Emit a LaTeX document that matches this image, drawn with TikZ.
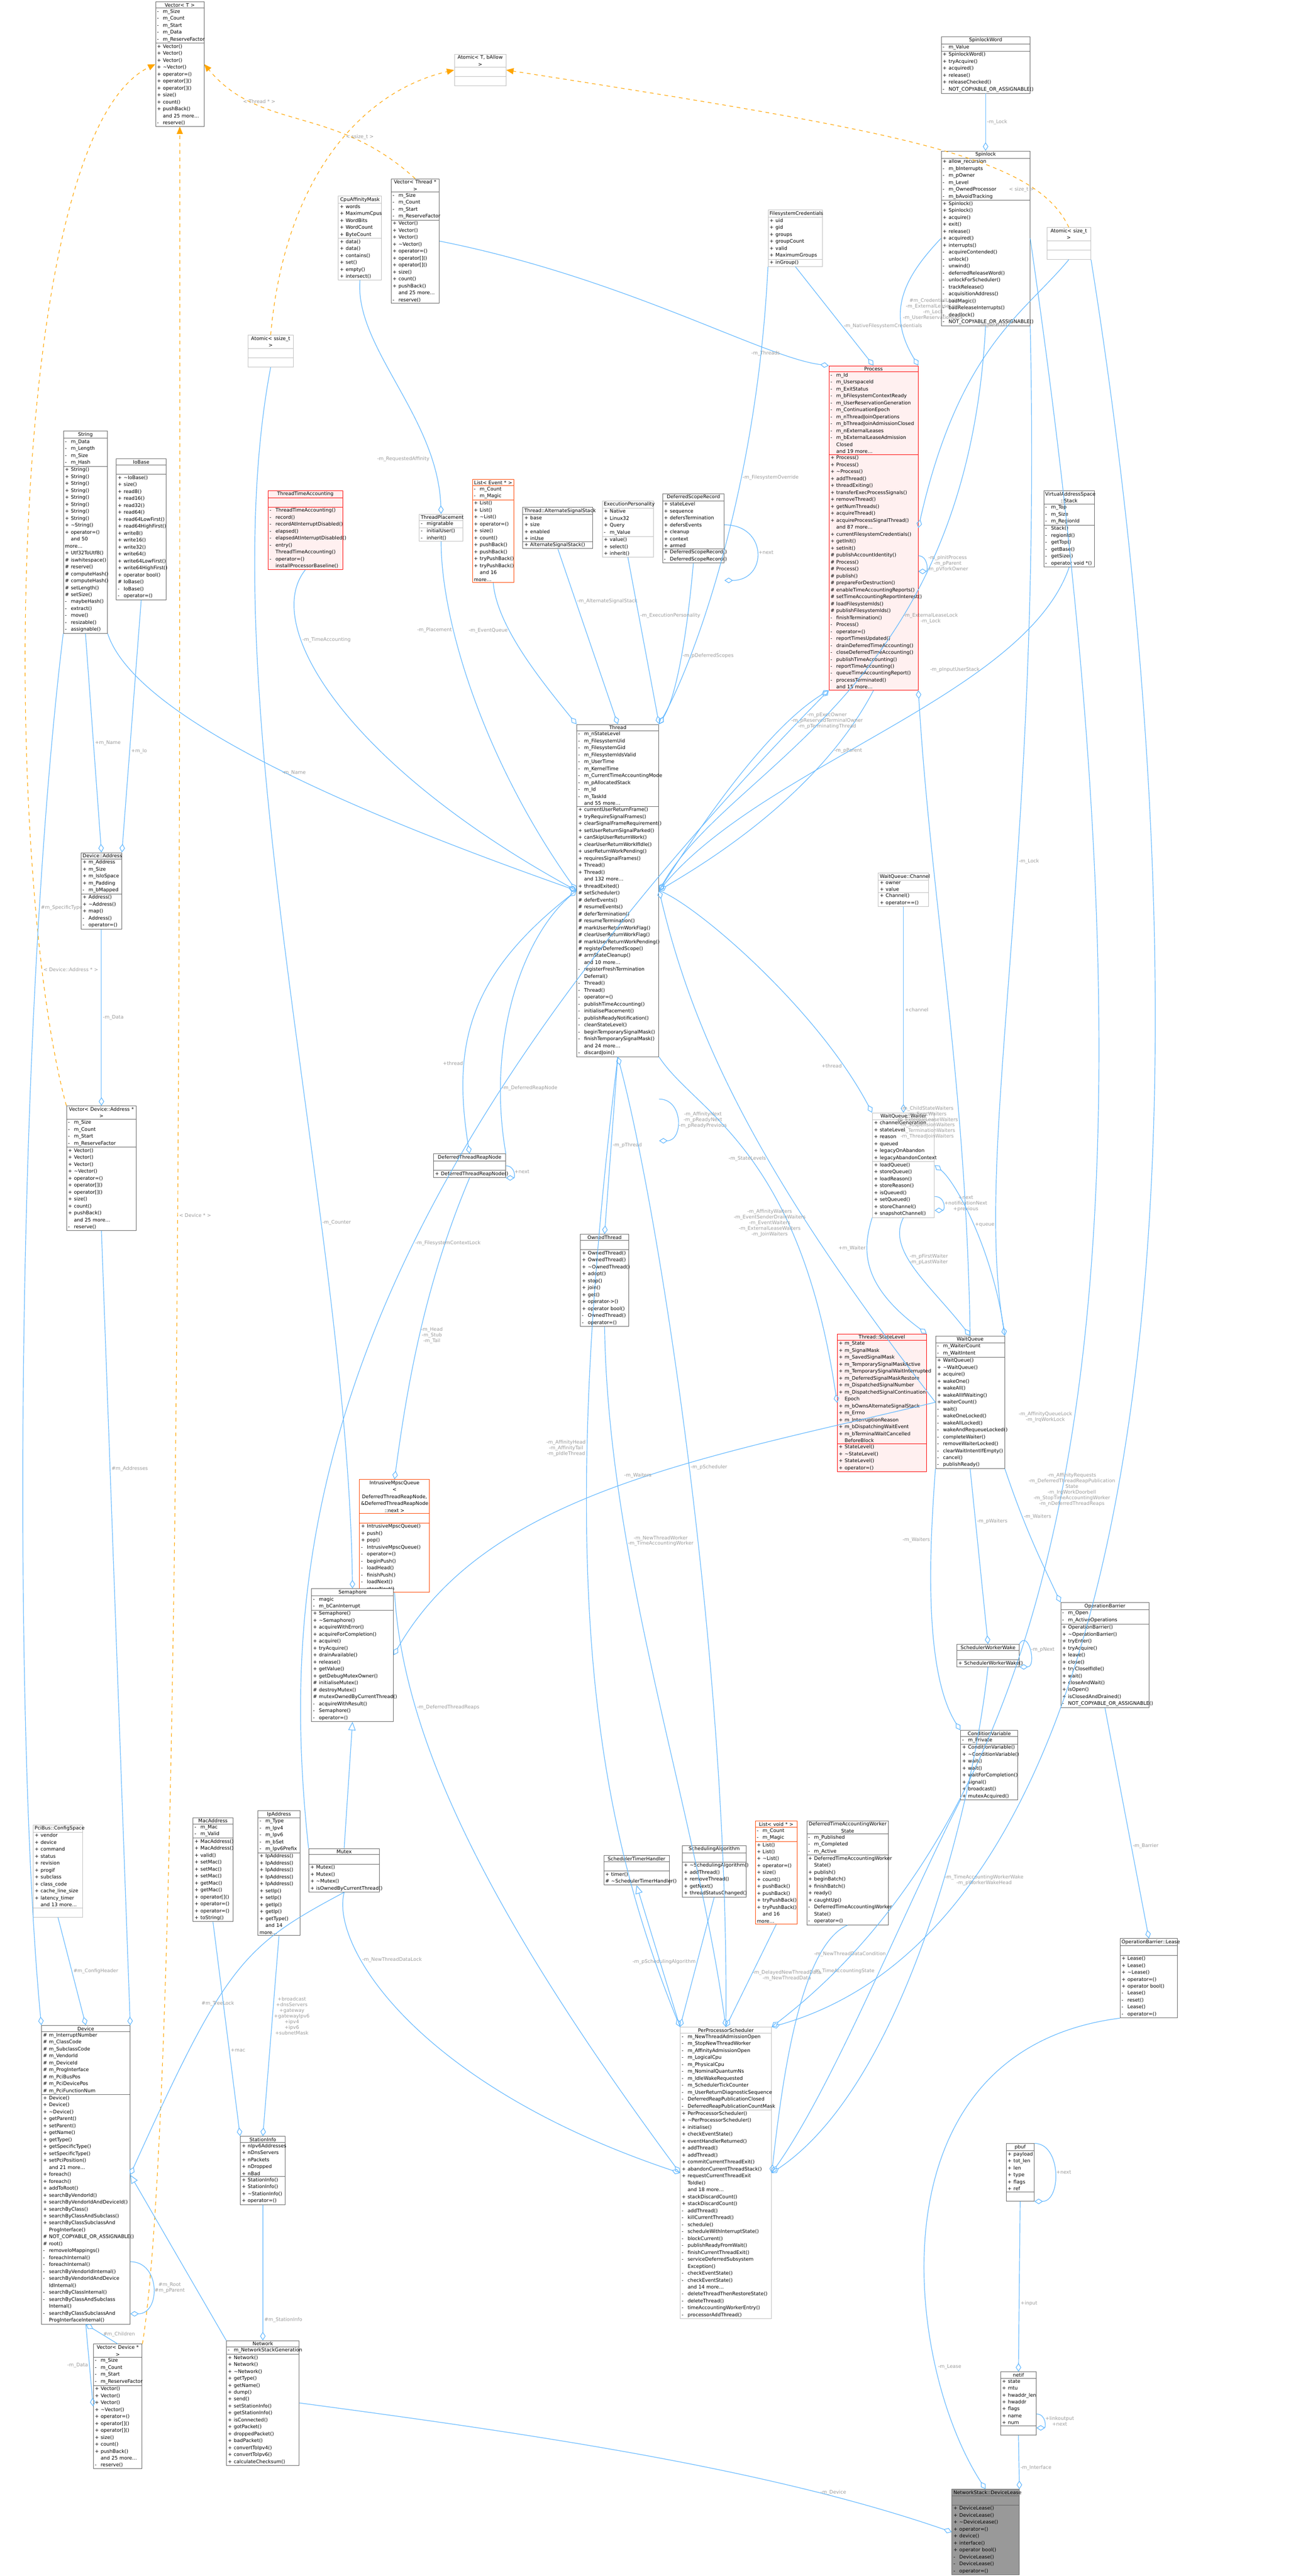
\documentclass[tikz,border=0pt]{standalone}
\usepackage{fontspec}
\setmainfont{DejaVu Sans}
\usetikzlibrary{arrows.meta,shapes.multipart}
\definecolor{edgeblue}{HTML}{63B8FF}
\definecolor{lblgray}{HTML}{9A9A9A}
\definecolor{tmplorange}{HTML}{FFA500}
\definecolor{boxdark}{HTML}{666666}
\definecolor{boxlight}{HTML}{BFBFBF}
\definecolor{hotred}{HTML}{FF0000}
\definecolor{hotfill}{HTML}{FFF0F0}
\definecolor{tmplred}{HTML}{FF4500}
\newcommand{\ttl}[1]{\centering #1\par}
\newcommand{\m}[2]{\makebox[1.7mm][l]{#1}#2\par}
\newcommand{\nomore}[1]{\m{}{and #1 more\dots}}
\tikzset{
  cls/.style={rectangle split, rectangle split parts=3, draw=boxdark, fill=white,
    anchor=north west, align=left, inner xsep=1.2pt, inner ysep=0.8pt,
    font=\fontsize{4}{5.69}\selectfont, line width=0.4pt},
  clsl/.style={cls, draw=boxlight},
  hot/.style={cls, draw=hotred, fill=hotfill},
  tmplcls/.style={cls, draw=tmplred},
  root/.style={cls, draw=boxdark, fill=black!40},
  link/.style={draw=edgeblue, line width=0.5pt, -{Diamond[open,length=7pt,width=4.5pt]}},
  tmpl/.style={draw=tmplorange, line width=0.5pt, dashed, -{Triangle[length=6pt,width=5pt]}},
  inh/.style={draw=edgeblue, line width=0.5pt, -{Triangle[open,length=7pt,width=6pt]}},
  lbl/.style={text=lblgray, font=\fontsize{4}{4.6}\selectfont, align=center, inner sep=1pt}
}
\begin{document}
\begin{tikzpicture}
\useasboundingbox (0,0) rectangle (37.64,-74.13);

% templates and small helpers
\node[cls, text width=1.31cm] (vecT) at (4.47,-0.05) {\ttl{Vector< T >}\nodepart{two}\m{-}{m\_Size}\m{-}{m\_Count}\m{-}{m\_Start}\m{-}{m\_Data}\m{-}{m\_ReserveFactor}\nodepart{three}\m{+}{Vector()}\m{+}{Vector()}\m{+}{Vector()}\m{+}{\textasciitilde Vector()}\m{+}{operator=()}\m{+}{operator[]()}\m{+}{operator[]()}\m{+}{size()}\m{+}{count()}\m{+}{pushBack()}\nomore{25}\m{-}{reserve()}};
\node[clsl, text width=1.4cm] (atomT) at (13.07,-1.55) {\ttl{Atomic< T, bAllow >}\nodepart{two}\strut\nodepart{three}\strut};
\node[cls, text width=1.3cm] (vecthr) at (11.25,-5.14) {\ttl{Vector< Thread * >}\nodepart{two}\m{-}{m\_Size}\m{-}{m\_Count}\m{-}{m\_Start}\m{-}{m\_ReserveFactor}\nodepart{three}\m{+}{Vector()}\m{+}{Vector()}\m{+}{Vector()}\m{+}{\textasciitilde Vector()}\m{+}{operator=()}\m{+}{operator[]()}\m{+}{operator[]()}\m{+}{size()}\m{+}{count()}\m{+}{pushBack()}\nomore{25}\m{-}{reserve()}};
\node[clsl, text width=1.16cm] (cpumask) at (9.73,-5.64) {\ttl{CpuAffinityMask}\nodepart{two}\m{+}{words}\m{+}{MaximumCpus}\m{+}{WordBits}\m{+}{WordCount}\m{+}{ByteCount}\nodepart{three}\m{+}{data()}\m{+}{data()}\m{+}{contains()}\m{+}{set()}\m{+}{empty()}\m{+}{intersect()}};
\node[clsl, text width=1.22cm] (atomssize) at (7.13,-9.64) {\ttl{Atomic< ssize\_t >}\nodepart{two}\strut\nodepart{three}\strut};
\node[cls, text width=1.18cm] (string) at (1.82,-12.4) {\ttl{String}\nodepart{two}\m{-}{m\_Data}\m{-}{m\_Length}\m{-}{m\_Size}\m{-}{m\_Hash}\nodepart{three}\m{+}{String()}\m{+}{String()}\m{+}{String()}\m{+}{String()}\m{+}{String()}\m{+}{String()}\m{+}{String()}\m{+}{String()}\m{+}{\textasciitilde String()}\m{+}{operator=()}\nomore{50}\m{+}{Utf32ToUtf8()}\m{\#}{iswhitespace()}\m{\#}{reserve()}\m{\#}{computeHash()}\m{\#}{computeHash()}\m{\#}{setLength()}\m{\#}{setSize()}\m{-}{maybeHash()}\m{-}{extract()}\m{-}{move()}\m{-}{resizable()}\m{-}{assignable()}};
\node[cls, text width=1.35cm] (iobase) at (3.34,-13.2) {\ttl{IoBase}\nodepart{two}\strut\nodepart{three}\m{+}{\textasciitilde IoBase()}\m{+}{size()}\m{+}{read8()}\m{+}{read16()}\m{+}{read32()}\m{+}{read64()}\m{+}{read64LowFirst()}\m{+}{read64HighFirst()}\m{+}{write8()}\m{+}{write16()}\m{+}{write32()}\m{+}{write64()}\m{+}{write64LowFirst()}\m{+}{write64HighFirst()}\m{+}{operator bool()}\m{\#}{IoBase()}\m{-}{IoBase()}\m{-}{operator=()}};
\node[hot, text width=2.06cm] (tta) at (7.71,-14.11) {\ttl{ThreadTimeAccounting}\nodepart{two}\strut\nodepart{three}\m{-}{ThreadTimeAccounting()}\m{-}{record()}\m{-}{recordAtInterruptDisabled()}\m{-}{elapsed()}\m{-}{elapsedAtInterruptDisabled()}\m{-}{entry()}\m{}{ThreadTimeAccounting()}\m{-}{operator=()}\m{}{installProcessorBaseline()}};
\node[clsl, text width=1.17cm] (tplace) at (12.06,-14.79) {\ttl{ThreadPlacement}\nodepart{two}\m{-}{migratable}\nodepart{three}\m{-}{initialUser()}\m{-}{inherit()}};
\node[tmplcls, text width=1.11cm] (listevt) at (13.59,-13.79) {\ttl{List< Event * >}\nodepart{two}\m{-}{m\_Count}\m{-}{m\_Magic}\nodepart{three}\m{+}{List()}\m{+}{List()}\m{+}{\textasciitilde List()}\m{+}{operator=()}\m{+}{size()}\m{+}{count()}\m{+}{pushBack()}\m{+}{pushBack()}\m{+}{tryPushBack()}\m{+}{tryPushBack()}\nomore{16}};
\node[cls, text width=1.93cm] (altstack) at (15.04,-14.59) {\ttl{Thread::AlternateSignalStack}\nodepart{two}\m{+}{base}\m{+}{size}\m{+}{enabled}\m{+}{inUse}\nodepart{three}\m{+}{AlternateSignalStack()}};
\node[clsl, text width=1.38cm] (execp) at (17.33,-14.41) {\ttl{ExecutionPersonality}\nodepart{two}\m{+}{Native}\m{+}{Linux32}\m{+}{Query}\m{-}{m\_Value}\nodepart{three}\m{+}{value()}\m{+}{select()}\m{+}{inherit()}};

% locks and processes
\node[cls, text width=2.47cm] (spinword) at (27.08,-1.05) {\ttl{SpinlockWord}\nodepart{two}\m{-}{m\_Value}\nodepart{three}\m{+}{SpinlockWord()}\m{+}{tryAcquire()}\m{+}{acquired()}\m{+}{release()}\m{+}{releaseChecked()}\m{-}{NOT\_COPYABLE\_OR\_ASSIGNABLE()}};
\node[cls, text width=2.47cm] (spinlock) at (27.08,-4.34) {\ttl{Spinlock}\nodepart{two}\m{+}{allow\_recursion}\m{-}{m\_bInterrupts}\m{-}{m\_pOwner}\m{-}{m\_Level}\m{-}{m\_OwnedProcessor}\m{-}{m\_bAvoidTracking}\nodepart{three}\m{+}{Spinlock()}\m{+}{Spinlock()}\m{+}{acquire()}\m{+}{exit()}\m{+}{release()}\m{+}{acquired()}\m{+}{interrupts()}\m{-}{acquireContended()}\m{-}{unlock()}\m{-}{unwind()}\m{-}{deferredReleaseWord()}\m{-}{unlockForScheduler()}\m{-}{trackRelease()}\m{-}{acquisitionAddress()}\m{-}{badMagic()}\m{-}{badReleaseInterrupts()}\m{-}{deadlock()}\m{-}{NOT\_COPYABLE\_OR\_ASSIGNABLE()}};
\node[clsl, text width=1.48cm] (fscred) at (22.1,-6.04) {\ttl{FilesystemCredentials}\nodepart{two}\m{+}{uid}\m{+}{gid}\m{+}{groups}\m{+}{groupCount}\m{+}{valid}\m{+}{MaximumGroups}\nodepart{three}\m{+}{inGroup()}};
\node[clsl, text width=1.18cm] (atomsize) at (30.12,-6.54) {\ttl{Atomic< size\_t >}\nodepart{two}\strut\nodepart{three}\strut};
\node[hot, text width=2.48cm] (process) at (23.85,-10.52) {\ttl{Process}\nodepart{two}\m{-}{m\_Id}\m{-}{m\_UserspaceId}\m{-}{m\_ExitStatus}\m{-}{m\_bFilesystemContextReady}\m{-}{m\_UserReservationGeneration}\m{-}{m\_ContinuationEpoch}\m{-}{m\_nThreadJoinOperations}\m{-}{m\_bThreadJoinAdmissionClosed}\m{-}{m\_nExternalLeases}\m{-}{m\_bExternalLeaseAdmission\\\hspace*{1.7mm}Closed}\nomore{19}\nodepart{three}\m{+}{Process()}\m{+}{Process()}\m{+}{\textasciitilde Process()}\m{+}{addThread()}\m{+}{threadExiting()}\m{+}{transferExecProcessSignals()}\m{+}{removeThread()}\m{+}{getNumThreads()}\m{+}{acquireThread()}\m{+}{acquireProcessSignalThread()}\nomore{87}\m{+}{currentFilesystemCredentials()}\m{+}{getInit()}\m{+}{setInit()}\m{\#}{publishAccountIdentity()}\m{\#}{Process()}\m{\#}{Process()}\m{\#}{publish()}\m{\#}{prepareForDestruction()}\m{\#}{enableTimeAccountingReports()}\m{\#}{setTimeAccountingReportInterest()}\m{\#}{loadFilesystemIds()}\m{\#}{publishFilesystemIds()}\m{-}{finishTermination()}\m{-}{Process()}\m{-}{operator=()}\m{-}{reportTimesUpdated()}\m{-}{drainDeferredTimeAccounting()}\m{-}{closeDeferredTimeAccounting()}\m{-}{publishTimeAccounting()}\m{-}{reportTimeAccounting()}\m{-}{queueTimeAccountingReport()}\m{-}{processTerminated()}\nomore{15}};
\node[cls, text width=1.69cm] (dscope) at (19.06,-14.2) {\ttl{DeferredScopeRecord}\nodepart{two}\m{+}{stateLevel}\m{+}{sequence}\m{+}{defersTermination}\m{+}{defersEvents}\m{+}{cleanup}\m{+}{context}\m{+}{armed}\nodepart{three}\m{+}{DeferredScopeRecord()}\m{-}{DeferredScopeRecord()}};
\node[cls, text width=1.38cm] (vstack) at (30.03,-14.12) {\ttl{VirtualAddressSpace\\::Stack}\nodepart{two}\m{-}{m\_Top}\m{-}{m\_Size}\m{-}{m\_RegionId}\nodepart{three}\m{-}{Stack()}\m{-}{regionId()}\m{-}{getTop()}\m{-}{getBase()}\m{-}{getSize()}\m{-}{operator void *()}};

% threads
\node[cls, text width=1.08cm] (devaddr) at (2.33,-24.53) {\ttl{Device::Address}\nodepart{two}\m{+}{m\_Address}\m{+}{m\_Size}\m{+}{m\_IsIoSpace}\m{+}{m\_Padding}\m{-}{m\_bMapped}\nodepart{three}\m{+}{Address()}\m{+}{\textasciitilde Address()}\m{+}{map()}\m{-}{Address()}\m{-}{operator=()}};
\node[cls, text width=1.92cm] (vecaddr) at (1.91,-31.82) {\ttl{Vector< Device::Address * >}\nodepart{two}\m{-}{m\_Size}\m{-}{m\_Count}\m{-}{m\_Start}\m{-}{m\_ReserveFactor}\nodepart{three}\m{+}{Vector()}\m{+}{Vector()}\m{+}{Vector()}\m{+}{\textasciitilde Vector()}\m{+}{operator=()}\m{+}{operator[]()}\m{+}{operator[]()}\m{+}{size()}\m{+}{count()}\m{+}{pushBack()}\nomore{25}\m{-}{reserve()}};
\node[cls, text width=2.28cm] (thread) at (16.59,-20.84) {\ttl{Thread}\nodepart{two}\m{-}{m\_nStateLevel}\m{-}{m\_FilesystemUid}\m{-}{m\_FilesystemGid}\m{-}{m\_FilesystemIdsValid}\m{-}{m\_UserTime}\m{-}{m\_KernelTime}\m{-}{m\_CurrentTimeAccountingMode}\m{-}{m\_pAllocatedStack}\m{-}{m\_Id}\m{-}{m\_TaskId}\nomore{55}\nodepart{three}\m{+}{currentUserReturnFrame()}\m{+}{tryRequireSignalFrames()}\m{+}{clearSignalFrameRequirement()}\m{+}{setUserReturnSignalParked()}\m{+}{canSkipUserReturnWork()}\m{+}{clearUserReturnWorkIfIdle()}\m{+}{userReturnWorkPending()}\m{+}{requiresSignalFrames()}\m{+}{Thread()}\m{+}{Thread()}\nomore{132}\m{+}{threadExited()}\m{\#}{setScheduler()}\m{\#}{deferEvents()}\m{\#}{resumeEvents()}\m{\#}{deferTermination()}\m{\#}{resumeTermination()}\m{\#}{markUserReturnWorkFlag()}\m{\#}{clearUserReturnWorkFlag()}\m{\#}{markUserReturnWorkPending()}\m{\#}{registerDeferredScope()}\m{\#}{armStateCleanup()}\nomore{10}\m{-}{registerFreshTermination\\\hspace*{1.7mm}Deferral()}\m{-}{Thread()}\m{-}{Thread()}\m{-}{operator=()}\m{-}{publishTimeAccounting()}\m{-}{initialisePlacement()}\m{-}{publishReadyNotification()}\m{-}{cleanStateLevel()}\m{-}{beginTemporarySignalMask()}\m{-}{finishTemporarySignalMask()}\nomore{24}\m{-}{discardJoin()}};
\node[cls, text width=1.99cm] (reapnode) at (12.47,-33.2) {\ttl{DeferredThreadReapNode}\nodepart{two}\strut\nodepart{three}\m{+}{DeferredThreadReapNode()}};
\node[cls, text width=1.3cm] (owned) at (16.7,-35.51) {\ttl{OwnedThread}\nodepart{two}\strut\nodepart{three}\m{+}{OwnedThread()}\m{+}{OwnedThread()}\m{+}{\textasciitilde OwnedThread()}\m{+}{adopt()}\m{+}{stop()}\m{+}{join()}\m{+}{get()}\m{+}{operator->()}\m{+}{operator bool()}\m{-}{OwnedThread()}\m{-}{operator=()}};
\node[clsl, text width=1.36cm] (channel) at (25.27,-25.12) {\ttl{WaitQueue::Channel}\nodepart{two}\m{+}{owner}\m{+}{value}\nodepart{three}\m{+}{Channel()}\m{+}{operator==()}};
\node[clsl, text width=1.7cm] (waiter) at (25.1,-32.02) {\ttl{WaitQueue::Waiter}\nodepart{two}\m{+}{channelGeneration}\m{+}{stateLevel}\m{+}{reason}\m{+}{queued}\m{+}{legacyOnAbandon}\m{+}{legacyAbandonContext}\nodepart{three}\m{+}{loadQueue()}\m{+}{storeQueue()}\m{+}{loadReason()}\m{+}{storeReason()}\m{+}{isQueued()}\m{+}{setQueued()}\m{+}{storeChannel()}\m{+}{snapshotChannel()}};

% synchronisation
\node[tmplcls, text width=1.93cm] (mpsc) at (10.34,-42.57) {\ttl{IntrusiveMpscQueue\\< DeferredThreadReapNode,\\ \&DeferredThreadReapNode\\::next >}\nodepart{two}\strut\nodepart{three}\m{+}{IntrusiveMpscQueue()}\m{+}{push()}\m{+}{pop()}\m{-}{IntrusiveMpscQueue()}\m{-}{operator=()}\m{-}{beginPush()}\m{-}{loadHead()}\m{-}{finishPush()}\m{-}{loadNext()}\m{-}{storeNext()}};
\node[cls, text width=2.27cm] (semaphore) at (8.96,-45.71) {\ttl{Semaphore}\nodepart{two}\m{-}{magic}\m{-}{m\_bCanInterrupt}\nodepart{three}\m{+}{Semaphore()}\m{+}{\textasciitilde Semaphore()}\m{+}{acquireWithError()}\m{+}{acquireForCompletion()}\m{+}{acquire()}\m{+}{tryAcquire()}\m{+}{drainAvailable()}\m{+}{release()}\m{+}{getValue()}\m{+}{getDebugMutexOwner()}\m{\#}{initialiseMutex()}\m{\#}{destroyMutex()}\m{\#}{mutexOwnedByCurrentThread()}\m{-}{acquireWithResult()}\m{-}{Semaphore()}\m{-}{operator=()}};
\node[clsl, text width=1.34cm] (pciconf) at (0.95,-52.51) {\ttl{PciBus::ConfigSpace}\nodepart{two}\m{+}{vendor}\m{+}{device}\m{+}{command}\m{+}{status}\m{+}{revision}\m{+}{progif}\m{+}{subclass}\m{+}{class\_code}\m{+}{cache\_line\_size}\m{+}{latency\_timer}\nomore{13}\nodepart{three}\strut};
\node[cls, text width=1.06cm] (macaddr) at (5.55,-52.3) {\ttl{MacAddress}\nodepart{two}\m{-}{m\_Mac}\m{-}{m\_Valid}\nodepart{three}\m{+}{MacAddress()}\m{+}{MacAddress()}\m{+}{valid()}\m{+}{setMac()}\m{+}{setMac()}\m{+}{setMac()}\m{+}{getMac()}\m{+}{getMac()}\m{+}{operator[]()}\m{+}{operator=()}\m{+}{operator=()}\m{+}{toString()}};
\node[cls, text width=1.12cm] (ipaddr) at (7.42,-52.1) {\ttl{IpAddress}\nodepart{two}\m{-}{m\_Type}\m{-}{m\_Ipv4}\m{-}{m\_Ipv6}\m{-}{m\_bSet}\m{-}{m\_Ipv6Prefix}\nodepart{three}\m{+}{IpAddress()}\m{+}{IpAddress()}\m{+}{IpAddress()}\m{+}{IpAddress()}\m{+}{IpAddress()}\m{+}{setIp()}\m{+}{setIp()}\m{+}{getIp()}\m{+}{getIp()}\m{+}{getType()}\nomore{14}};
\node[cls, text width=1.95cm] (mutex) at (8.88,-53.19) {\ttl{Mutex}\nodepart{two}\strut\nodepart{three}\m{+}{Mutex()}\m{+}{Mutex()}\m{+}{\textasciitilde Mutex()}\m{+}{isOwnedByCurrentThread()}};
\node[cls, text width=1.8cm] (stimer) at (17.37,-53.39) {\ttl{SchedulerTimerHandler}\nodepart{two}\strut\nodepart{three}\m{+}{timer()}\m{\#}{\textasciitilde SchedulerTimerHandler()}};
\node[hot, text width=2.48cm] (statelvl) at (24.09,-38.38) {\ttl{Thread::StateLevel}\nodepart{two}\m{+}{m\_State}\m{+}{m\_SignalMask}\m{+}{m\_SavedSignalMask}\m{+}{m\_TemporarySignalMaskActive}\m{+}{m\_TemporarySignalWaitInterrupted}\m{+}{m\_DeferredSignalMaskRestore}\m{+}{m\_DispatchedSignalNumber}\m{+}{m\_DispatchedSignalContinuation\\\hspace*{1.7mm}Epoch}\m{+}{m\_bOwnsAlternateSignalStack}\m{+}{m\_Errno}\m{+}{m\_InterruptionReason}\m{+}{m\_bDispatchingWaitEvent}\m{+}{m\_bTerminalWaitCancelled\\\hspace*{1.7mm}BeforeBlock}\nodepart{three}\m{+}{StateLevel()}\m{+}{\textasciitilde StateLevel()}\m{+}{StateLevel()}\m{+}{operator=()}};
\node[cls, text width=1.9cm] (waitq) at (26.92,-38.44) {\ttl{WaitQueue}\nodepart{two}\m{-}{m\_WaiterCount}\m{-}{m\_WaitIntent}\nodepart{three}\m{+}{WaitQueue()}\m{+}{\textasciitilde WaitQueue()}\m{+}{acquire()}\m{+}{wakeOne()}\m{+}{wakeAll()}\m{+}{wakeAllIfWaiting()}\m{+}{waiterCount()}\m{-}{wait()}\m{-}{wakeOneLocked()}\m{-}{wakeAllLocked()}\m{-}{wakeAndRequeueLocked()}\m{-}{completeWaiter()}\m{-}{removeWaiterLocked()}\m{-}{clearWaitIntentIfEmpty()}\m{-}{cancel()}\m{-}{publishReady()}};
\node[cls, text width=2.46cm] (opbar) at (30.52,-46.11) {\ttl{OperationBarrier}\nodepart{two}\m{-}{m\_Open}\m{-}{m\_ActiveOperations}\nodepart{three}\m{+}{OperationBarrier()}\m{+}{\textasciitilde OperationBarrier()}\m{+}{tryEnter()}\m{+}{tryAcquire()}\m{+}{leave()}\m{+}{close()}\m{+}{tryCloseIfIdle()}\m{+}{wait()}\m{+}{closeAndWait()}\m{+}{isOpen()}\m{+}{isClosedAndDrained()}\m{-}{NOT\_COPYABLE\_OR\_ASSIGNABLE()}};
\node[cls, text width=1.71cm] (sww) at (27.53,-47.31) {\ttl{SchedulerWorkerWake}\nodepart{two}\strut\nodepart{three}\m{+}{SchedulerWorkerWake()}};
\node[cls, text width=1.56cm] (condvar) at (27.64,-49.79) {\ttl{ConditionVariable}\nodepart{two}\m{-}{m\_Private}\nodepart{three}\m{+}{ConditionVariable()}\m{+}{\textasciitilde ConditionVariable()}\m{+}{wait()}\m{+}{wait()}\m{+}{waitForCompletion()}\m{+}{signal()}\m{+}{broadcast()}\m{+}{mutexAcquired()}};
\node[cls, text width=1.75cm] (schedalg) at (19.63,-53.1) {\ttl{SchedulingAlgorithm}\nodepart{two}\strut\nodepart{three}\m{+}{\textasciitilde SchedulingAlgorithm()}\m{+}{addThread()}\m{+}{removeThread()}\m{+}{getNext()}\m{+}{threadStatusChanged()}};
\node[tmplcls, text width=1.12cm] (listvoid) at (21.73,-52.4) {\ttl{List< void * >}\nodepart{two}\m{-}{m\_Count}\m{-}{m\_Magic}\nodepart{three}\m{+}{List()}\m{+}{List()}\m{+}{\textasciitilde List()}\m{+}{operator=()}\m{+}{size()}\m{+}{count()}\m{+}{pushBack()}\m{+}{pushBack()}\m{+}{tryPushBack()}\m{+}{tryPushBack()}\nomore{16}};
\node[cls, text width=2.27cm] (dtaws) at (23.21,-52.39) {\ttl{DeferredTimeAccountingWorker\\State}\nodepart{two}\m{-}{m\_Published}\m{-}{m\_Completed}\m{-}{m\_Active}\nodepart{three}\m{+}{DeferredTimeAccountingWorker\\\hspace*{1.7mm}State()}\m{+}{publish()}\m{+}{beginBatch()}\m{+}{finishBatch()}\m{+}{ready()}\m{+}{caughtUp()}\m{-}{DeferredTimeAccountingWorker\\\hspace*{1.7mm}State()}\m{-}{operator=()}};
\node[cls, text width=1.57cm] (lease) at (32.23,-55.78) {\ttl{OperationBarrier::Lease}\nodepart{two}\strut\nodepart{three}\m{+}{Lease()}\m{+}{Lease()}\m{+}{\textasciitilde Lease()}\m{+}{operator=()}\m{+}{operator bool()}\m{-}{Lease()}\m{-}{reset()}\m{-}{Lease()}\m{-}{operator=()}};

% devices and networking
\node[cls, text width=2.46cm] (device) at (1.19,-58.28) {\ttl{Device}\nodepart{two}\m{\#}{m\_InterruptNumber}\m{\#}{m\_ClassCode}\m{\#}{m\_SubclassCode}\m{\#}{m\_VendorId}\m{\#}{m\_DeviceId}\m{\#}{m\_ProgInterface}\m{\#}{m\_PciBusPos}\m{\#}{m\_PciDevicePos}\m{\#}{m\_PciFunctionNum}\nodepart{three}\m{+}{Device()}\m{+}{Device()}\m{+}{\textasciitilde Device()}\m{+}{getParent()}\m{+}{setParent()}\m{+}{getName()}\m{+}{getType()}\m{+}{getSpecificType()}\m{+}{setSpecificType()}\m{+}{setPciPosition()}\nomore{21}\m{+}{foreach()}\m{+}{foreach()}\m{+}{addToRoot()}\m{+}{searchByVendorId()}\m{+}{searchByVendorIdAndDeviceId()}\m{+}{searchByClass()}\m{+}{searchByClassAndSubclass()}\m{+}{searchByClassSubclassAnd\\\hspace*{1.7mm}ProgInterface()}\m{\#}{NOT\_COPYABLE\_OR\_ASSIGNABLE()}\m{\#}{root()}\m{-}{removeIoMappings()}\m{-}{foreachInternal()}\m{-}{foreachInternal()}\m{-}{searchByVendorIdInternal()}\m{-}{searchByVendorIdAndDevice\\\hspace*{1.7mm}IdInternal()}\m{-}{searchByClassInternal()}\m{-}{searchByClassAndSubclass\\\hspace*{1.7mm}Internal()}\m{-}{searchByClassSubclassAnd\\\hspace*{1.7mm}ProgInterfaceInternal()}};
\node[cls, text width=1.21cm] (station) at (6.91,-61.47) {\ttl{StationInfo}\nodepart{two}\m{+}{nIpv6Addresses}\m{+}{nDnsServers}\m{+}{nPackets}\m{+}{nDropped}\m{+}{nBad}\nodepart{three}\m{+}{StationInfo()}\m{+}{StationInfo()}\m{+}{\textasciitilde StationInfo()}\m{+}{operator=()}};
\node[cls, text width=1.32cm] (vecdev) at (2.68,-67.45) {\ttl{Vector< Device * >}\nodepart{two}\m{-}{m\_Size}\m{-}{m\_Count}\m{-}{m\_Start}\m{-}{m\_ReserveFactor}\nodepart{three}\m{+}{Vector()}\m{+}{Vector()}\m{+}{Vector()}\m{+}{\textasciitilde Vector()}\m{+}{operator=()}\m{+}{operator[]()}\m{+}{operator[]()}\m{+}{size()}\m{+}{count()}\m{+}{pushBack()}\nomore{25}\m{-}{reserve()}};
\node[cls, text width=2.01cm] (network) at (6.51,-67.35) {\ttl{Network}\nodepart{two}\m{-}{m\_NetworkStackGeneration}\nodepart{three}\m{+}{Network()}\m{+}{Network()}\m{+}{\textasciitilde Network()}\m{+}{getType()}\m{+}{getName()}\m{+}{dump()}\m{+}{send()}\m{+}{setStationInfo()}\m{+}{getStationInfo()}\m{+}{isConnected()}\m{+}{gotPacket()}\m{+}{droppedPacket()}\m{+}{badPacket()}\m{+}{convertToIpv4()}\m{+}{convertToIpv6()}\m{+}{calculateChecksum()}};
\node[clsl, text width=2.54cm] (pps) at (19.57,-58.33) {\ttl{PerProcessorScheduler}\nodepart{two}\m{-}{m\_NewThreadAdmissionOpen}\m{-}{m\_StopNewThreadWorker}\m{-}{m\_AffinityAdmissionOpen}\m{-}{m\_LogicalCpu}\m{-}{m\_PhysicalCpu}\m{-}{m\_NominalQuantumNs}\m{-}{m\_IdleWakeRequested}\m{-}{m\_SchedulerTickCounter}\m{-}{m\_UserReturnDiagnosticSequence}\m{-}{DeferredReapPublicationClosed}\m{-}{DeferredReapPublicationCountMask}\nodepart{three}\m{+}{PerProcessorScheduler()}\m{+}{\textasciitilde PerProcessorScheduler()}\m{+}{initialise()}\m{+}{checkEventState()}\m{+}{eventHandlerReturned()}\m{+}{addThread()}\m{+}{addThread()}\m{+}{commitCurrentThreadExit()}\m{+}{abandonCurrentThreadStack()}\m{+}{requestCurrentThreadExit\\\hspace*{1.7mm}ToIdle()}\nomore{18}\m{+}{stackDiscardCount()}\m{+}{stackDiscardCount()}\m{-}{addThread()}\m{-}{killCurrentThread()}\m{-}{schedule()}\m{-}{scheduleWithInterruptState()}\m{-}{blockCurrent()}\m{-}{publishReadyFromWait()}\m{-}{finishCurrentThreadExit()}\m{-}{serviceDeferredSubsystem\\\hspace*{1.7mm}Exception()}\m{-}{checkEventState()}\m{-}{checkEventState()}\nomore{14}\m{-}{deleteThreadThenRestoreState()}\m{-}{deleteThread()}\m{-}{timeAccountingWorkerEntry()}\m{-}{processorAddThread()}};
\node[cls, text width=0.72cm] (pbuf) at (28.95,-61.68) {\ttl{pbuf}\nodepart{two}\m{+}{payload}\m{+}{tot\_len}\m{+}{len}\m{+}{type}\m{+}{flags}\m{+}{ref}\nodepart{three}\strut};
\node[cls, text width=0.94cm] (netif) at (28.79,-68.25) {\ttl{netif}\nodepart{two}\m{+}{state}\m{+}{mtu}\m{+}{hwaddr\_len}\m{+}{hwaddr}\m{+}{flags}\m{+}{name}\m{+}{num}\nodepart{three}\strut};
\node[root, text width=1.85cm] (devlease) at (27.39,-71.63) {\ttl{NetworkStack::DeviceLease}\nodepart{two}\strut\nodepart{three}\m{+}{DeviceLease()}\m{+}{DeviceLease()}\m{+}{\textasciitilde DeviceLease()}\m{+}{operator=()}\m{+}{device()}\m{+}{interface()}\m{+}{operator bool()}\m{-}{DeviceLease()}\m{-}{DeviceLease()}\m{-}{operator=()}};

% template instances
\draw[tmpl] (vecthr.north) .. controls (9.6,-3.0) and (7.5,-3.8) .. node[lbl,pos=.7,above]{< Thread * >} (vecT.east);
\draw[tmpl] (vecaddr.north west) .. controls (0.05,-25) and (0.05,-4) .. node[lbl,pos=.15,right]{< Device::Address * >} (vecT.west);
\draw[tmpl] (vecdev.north east) .. controls (5.3,-60) and (5.16,-20) .. node[lbl,pos=.55,right]{< Device * >} (vecT.south);
\draw[tmpl] (atomssize.north) .. controls (8.2,-5) and (10.5,-2.6) .. node[lbl,pos=.55,right]{< ssize\_t >} (atomT.west);
\draw[tmpl] (atomsize.north) .. controls (29.8,-4.5) and (26,-3.8) .. node[lbl,pos=.2,left]{< size\_t >} (atomT.east);

% members
\draw[link] (spinword.south) -- node[lbl,right]{-m\_Lock} (spinlock.north);
\draw[link] (vecthr.east) .. controls (18,-8) and (22,-10.3) .. node[lbl,pos=.8,left]{-m\_Threads} (process.north west);
\draw[link] (fscred.south) -- node[lbl,pos=.6,right]{-m\_NativeFilesystemCredentials} (process.north);
\draw[link] (spinlock.west) .. controls (26,-8) and (25.5,-9) .. node[lbl,pos=.6,right]{\#m\_CredentialLock\\-m\_ExternalLeaseLock\\-m\_Lock\\-m\_UserReservationLock} (process.north east);
\draw[link] (atomsize.south) .. controls (29.5,-9) and (27.6,-10) .. node[lbl,pos=.4,left]{-m\_NextTid} (process.east);
\draw[link] ([yshift=-8mm]process.east) to[out=0,in=0,looseness=1.6] node[lbl,right]{-m\_pInitProcess\\-m\_pParent\\-m\_pVforkOwner} ([yshift=-12.5mm]process.east);
\draw[link] ([yshift=1mm]dscope.east) to[out=0,in=0,looseness=2] node[lbl,right]{+next} ([yshift=-15mm]dscope.east);
\draw[link] (dscope.south) .. controls (19.8,-18) and (19.5,-20) .. node[lbl,pos=.5,right]{-m\_pDeferredScopes} (thread.north east);
\draw[link] (fscred.south west) .. controls (21.8,-14) and (20,-19) .. node[lbl,pos=.35,right]{-m\_FilesystemOverride} (thread.north east);
\draw[link] (string.south) -- node[lbl,right]{+m\_Name} (devaddr.north);
\draw[link] (iobase.south) -- node[lbl,pos=.6,right]{+m\_Io} (devaddr.north east);
\draw[link] (string.south east) .. controls (4,-21) and (12,-24) .. node[lbl,pos=.5,above]{-m\_Name} (thread.west);
\draw[link] (tta.south) .. controls (7.5,-18) and (10,-22) .. node[lbl,pos=.3,right]{-m\_TimeAccounting} (thread.west);
\draw[link] (tplace.south) .. controls (12.7,-18) and (14,-22) .. node[lbl,pos=.3,left]{-m\_Placement} (thread.west);
\draw[link] (listevt.south) .. controls (14.3,-18) and (15.5,-19.5) .. node[lbl,pos=.35,left]{-m\_EventQueue} (thread.north west);
\draw[link] (altstack.south) -- node[lbl,pos=.3,right]{-m\_AlternateSignalStack} (thread.north);
\draw[link] (execp.south) -- node[lbl,pos=.35,right]{-m\_ExecutionPersonality} (thread.north east);
\draw[link] (cpumask.south) .. controls (10.2,-10) and (12.6,-12) .. node[lbl,pos=.8,left]{-m\_RequestedAffinity} (tplace.north);
\draw[link] (devaddr.south) -- node[lbl,right]{-m\_Data} (vecaddr.north);
\draw[link] (thread.south) -- node[lbl,right]{-m\_pThread} (owned.north);
\draw[link] (thread.west) .. controls (13.5,-28) and (13,-30) .. node[lbl,pos=.7,left]{+thread} (reapnode.north);
\draw[link] (reapnode.north east) .. controls (14,-30) and (15,-27) .. node[lbl,pos=.2,right]{-m\_DeferredReapNode} (thread.west);
\draw[link] (reapnode.east) to[out=0,in=0,looseness=2] node[lbl,right]{+next} (reapnode.south east);
\draw[link] (process.south) .. controls (23.5,-23) and (20,-25) .. node[lbl,pos=.2,right]{-m\_pParent} (thread.east);
\draw[link] (thread.east) .. controls (20,-24) and (22,-21) .. node[lbl,pos=.8,right]{-m\_pExecOwner\\-m\_pReservedTerminalOwner\\-m\_pTerminatingThread} (process.south west);
\draw[link] (vstack.south) .. controls (29.5,-20) and (22,-22) .. node[lbl,pos=.3,left]{-m\_pInputUserStack} (thread.east);
\draw[link] ([yshift=-60mm]thread.east) to[out=0,in=0,looseness=1.5] node[lbl,right]{-m\_AffinityNext\\-m\_pReadyNext\\-m\_pReadyPrevious} ([yshift=-72mm]thread.east);
\draw[link] (channel.south) -- node[lbl,right]{+channel} (waiter.north);
\draw[link] (thread.east) .. controls (20,-26) and (23.5,-29) .. node[lbl,pos=.85,left]{+thread} (waiter.north west);
\draw[link] ([yshift=-9mm]waiter.east) to[out=0,in=0,looseness=2] node[lbl,right]{+next\\+notificationNext\\+previous} ([yshift=-13mm]waiter.east);
\draw[link] (thread.south east) .. controls (20,-32) and (23,-33) .. node[lbl,pos=.5,below]{-m\_StateLevels} (statelvl.west);
\draw[link] (reapnode.south) .. controls (12.2,-37) and (11.7,-40) .. node[lbl,pos=.5,right]{-m\_Head\\-m\_Stub\\-m\_Tail} (mpsc.north);
\draw[link] (mpsc.south) .. controls (11.6,-50) and (14,-55) .. node[lbl,pos=.25,right]{-m\_DeferredThreadReaps} (pps.west);
\draw[link] (atomssize.south) .. controls (6,-20) and (10,-35) .. node[lbl,pos=.7,right]{-m\_Counter} (semaphore.north);
\draw[link] (waitq.west) .. controls (20,-42) and (14,-43) .. node[lbl,pos=.45,above]{-m\_Waiters} (semaphore.east);
\draw[inh] (mutex.north) -- (semaphore.south);
\draw[link] (mutex.north west) .. controls (8,-45) and (9,-35) .. node[lbl,pos=.6,right]{-m\_FilesystemContextLock} (process.south west);
\draw[link] (mutex.south) .. controls (7,-56) and (6.5,-56.5) .. node[lbl,pos=.6,below]{\#m\_TreeLock} (device.east);
\draw[link] (mutex.south) .. controls (9.5,-56) and (12,-60) .. node[lbl,pos=.3,right]{-m\_NewThreadDataLock} (pps.west);
\draw[link] (macaddr.south) -- node[lbl,pos=.6,right]{+mac} (station.north west);
\draw[link] (ipaddr.south) -- node[lbl,pos=.4,right]{+broadcast\\+dnsServers\\+gateway\\+gatewayIpv6\\+ipv4\\+ipv6\\+subnetMask} (station.north);
\draw[link] (station.south) -- node[lbl,pos=.85,right]{\#m\_StationInfo} (network.north);
\draw[inh] (network.north west) -- (device.east);
\draw[link] ([yshift=-25mm]device.east) to[out=0,in=0,looseness=1.5] node[lbl,right]{\#m\_Root\\\#m\_pParent} ([yshift=-40mm]device.east);
\draw[link] (device.south) -- node[lbl,left]{-m\_Data} (vecdev.west);
\draw[link] (vecdev.north) -- node[lbl,right]{\#m\_Children} (device.south);
\draw[link] (vecaddr.south) -- node[lbl,pos=.3,right]{\#m\_Addresses} (device.north east);
\draw[link] (string.south west) .. controls (0.4,-30) and (0.4,-50) .. node[lbl,pos=.2,right]{\#m\_SpecificType} (device.north west);
\draw[link] (pciconf.south) -- node[lbl,pos=.5,right]{\#m\_ConfigHeader} (device.north);
\draw[link] (network.east) .. controls (15,-70) and (22,-71) .. node[lbl,pos=.8,above]{-m\_Device} (devlease.west);
\draw[link] (schedalg.south) -- node[lbl,pos=.5,left]{-m\_pSchedulingAlgorithm} (pps.north west);
\draw[link] (listvoid.south) -- node[lbl,pos=.5,right]{-m\_DelayedNewThreadData\\-m\_NewThreadData} (pps.north);
\draw[link] (dtaws.south) .. controls (23,-56) and (22.5,-60) .. node[lbl,pos=.3,right]{-m\_TimeAccountingState} (pps.east);
\draw[inh] (pps.north west) -- (stimer.south);
\draw[link] (condvar.south west) .. controls (26,-55) and (24,-60) .. node[lbl,pos=.4,left]{-m\_NewThreadDataCondition} (pps.east);
\draw[link] (sww.south) .. controls (28,-52) and (26,-60) .. node[lbl,pos=.4,right]{-m\_TimeAccountingWorkerWake\\-m\_pWorkerWakeHead} (pps.east);
\draw[link] (sww.north east) to[out=60,in=0,looseness=2] node[lbl,right]{-m\_pNext} (sww.south east);
\draw[link] (waitq.south west) .. controls (26.8,-44) and (26.5,-48) .. node[lbl,pos=.3,left]{-m\_Waiters} (condvar.north west);
\draw[link] (waitq.south) -- node[lbl,pos=.3,right]{-m\_pWaiters} (sww.north);
\draw[link] (waitq.south east) .. controls (29.5,-44) and (30,-45) .. node[lbl,pos=.3,right]{-m\_Waiters} (opbar.north west);
\draw[link] (opbar.south) -- node[lbl,pos=.6,right]{-m\_Barrier} (lease.north);
\draw[link] (lease.south west) .. controls (25,-59) and (26,-68) .. node[lbl,pos=.75,right]{-m\_Lease} (devlease.north);
\draw[link] (pbuf.north east) to[out=0,in=0,looseness=1.2] node[lbl,right]{+next} (pbuf.south east);
\draw[link] (pbuf.south) -- node[lbl,pos=.6,right]{+input} (netif.north);
\draw[link] ([yshift=-3mm]netif.east) to[out=0,in=0,looseness=1.8] node[lbl,right]{+linkoutput\\+next} ([yshift=-7mm]netif.east);
\draw[link] (netif.south) -- node[lbl,pos=.6,right]{-m\_Interface} (devlease.north east);
\draw[link] (waiter.south west) .. controls (24.8,-36) and (24.8,-37) .. node[lbl,pos=.3,left]{+m\_Waiter} (statelvl.north east);
\draw[link] (waiter.south) .. controls (25.5,-36) and (26.8,-37) .. node[lbl,pos=.4,right]{-m\_pFirstWaiter\\-m\_pLastWaiter} (waitq.north);
\draw[link] (waitq.north east) .. controls (28.6,-36) and (27.5,-34) .. node[lbl,pos=.5,right]{+queue} (waiter.east);
\draw[link] (waitq.north) .. controls (27.8,-31) and (26.8,-26) .. node[lbl,pos=.3,left]{-m\_ChildStateWaiters\\-m\_ExecWaiters\\-m\_ExternalLeaseWaiters\\-m\_SuspensionWaiters\\-m\_TerminationWaiters\\-m\_ThreadJoinWaiters} (process.south east);
\draw[link] (waitq.west) .. controls (22,-34) and (20,-30) .. node[lbl,pos=.3,left]{-m\_AffinityWaiters\\-m\_EventSenderDrainWaiters\\-m\_EventWaiters\\-m\_ExternalLeaseWaiters\\-m\_JoinWaiters} (thread.east);
\draw[link] (spinlock.south) .. controls (27.8,-20) and (21,-22) .. node[lbl,pos=.35,right]{-m\_ExternalLeaseLock\\-m\_Lock} (thread.east);
\draw[link] (spinlock.south east) .. controls (30,-25) and (28,-33) .. node[lbl,pos=.4,right]{-m\_Lock} (waitq.north east);
\draw[link] (spinlock.east) .. controls (33,-30) and (33,-50) .. node[lbl,pos=.55,left]{-m\_AffinityQueueLock\\-m\_IrqWorkLock} (pps.north east);
\draw[link] (atomsize.south east) .. controls (35,-30) and (34,-55) .. node[lbl,pos=.55,left]{-m\_AffinityRequests\\-m\_DeferredThreadReapPublication\\State\\-m\_IrqWorkDoorbell\\-m\_StopTimeAccountingWorker\\-m\_nDeferredThreadReaps} (pps.north east);
\draw[link] (owned.south) .. controls (17.5,-45) and (20,-52) .. node[lbl,pos=.3,right]{-m\_NewThreadWorker\\-m\_TimeAccountingWorker} (pps.north);
\draw[link] (thread.south) .. controls (16,-45) and (17,-52) .. node[lbl,pos=.3,left]{-m\_AffinityHead\\-m\_AffinityTail\\-m\_pIdleThread} (pps.north west);
\draw[link] (pps.north) .. controls (21,-48) and (19,-35) .. node[lbl,pos=.5,right]{-m\_pScheduler} (thread.south);
\end{tikzpicture}
\end{document}
